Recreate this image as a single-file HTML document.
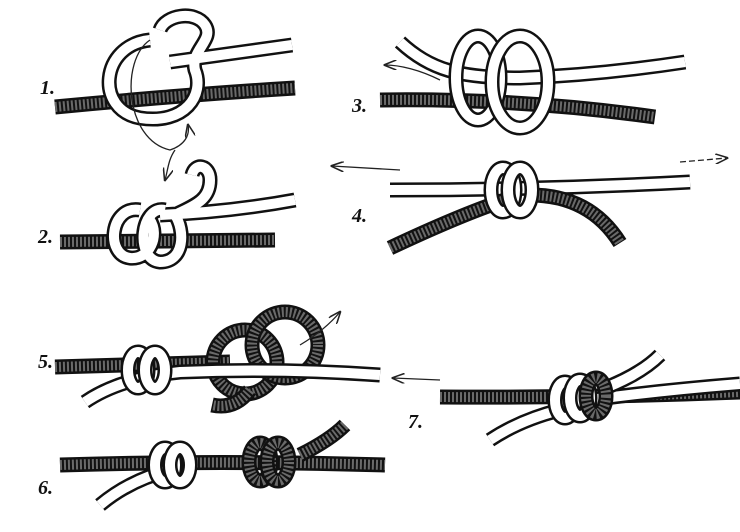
<!DOCTYPE html>
<html><head><meta charset="utf-8"><style>
html,body{margin:0;padding:0;background:#fff;}
svg{display:block}
.lo{fill:none;stroke:#111;stroke-width:15;stroke-linecap:butt;stroke-linejoin:round}
.li{fill:none;stroke:#fff;stroke-width:10;stroke-linecap:butt;stroke-linejoin:round}
.di{fill:none;stroke:#6a6a6a;stroke-width:10;stroke-dasharray:2 2;stroke-linejoin:round}
.ar{fill:none;stroke:#222;stroke-width:1.3}
text{font-family:"Liberation Serif",serif;font-size:20px;font-style:italic;font-weight:bold;fill:#111}
</style></head><body>
<svg width="740" height="532" viewBox="0 0 740 532" xmlns="http://www.w3.org/2000/svg">
<defs>
<marker id="ah" markerWidth="10" markerHeight="8" refX="9" refY="4" orient="auto"><path d="M0,0 L10,4 L0,8" fill="none" stroke="#222" stroke-width="1.2"/></marker>
</defs>

<!-- Panel 1 -->
<g>
<path class="lo" d="M55,107 Q180,95 295,88"/><path class="di" d="M55,107 Q180,95 295,88"/>
<path class="lo" d="M292,45 Q220,55 170,62 M150,40 C100,45 95,110 140,118 C185,125 205,95 195,70 C190,50 215,40 205,25 C195,10 165,15 160,30"/>
<path class="li" d="M292,45 Q220,55 170,62 M150,40 C100,45 95,110 140,118 C185,125 205,95 195,70 C190,50 215,40 205,25 C195,10 165,15 160,30"/>
<path class="ar" d="M150,40 C120,60 125,140 170,150 C185,145 190,135 188,125" marker-end="url(#ah)"/>
<path class="ar" d="M175,150 C168,160 168,170 165,180" marker-end="url(#ah)"/>
<text x="40" y="94">1.</text>
</g>

<!-- Panel 2 -->
<g>
<path class="lo" d="M60,242 L275,240"/><path class="di" d="M60,242 L275,240"/>
<path class="lo" d="M295,200 Q230,212 160,215 M140,210 C110,205 105,255 130,258 C150,260 160,235 150,220 M165,210 C140,205 135,260 160,262 C185,262 185,230 175,215 C195,205 210,200 210,180 C210,165 195,162 192,175"/>
<path class="li" d="M295,200 Q230,212 160,215 M140,210 C110,205 105,255 130,258 C150,260 160,235 150,220 M165,210 C140,205 135,260 160,262 C185,262 185,230 175,215 C195,205 210,200 210,180 C210,165 195,162 192,175"/>
<text x="38" y="243">2.</text>
</g>

<!-- Panel 3 -->
<g>
<path class="lo" d="M380,100 Q520,98 655,117"/><path class="di" d="M380,100 Q520,98 655,117"/>
<path class="lo" d="M400,42 C430,70 460,78 520,78 Q600,75 685,62"/>
<path class="li" d="M400,42 C430,70 460,78 520,78 Q600,75 685,62"/>
<ellipse class="lo" cx="478" cy="78" rx="22" ry="42"/><ellipse class="li" cx="478" cy="78" rx="22" ry="42"/>
<ellipse class="lo" cx="520" cy="82" rx="28" ry="46"/><ellipse class="li" cx="520" cy="82" rx="28" ry="46"/>
<path class="ar" d="M440,80 C420,70 400,65 385,65" marker-end="url(#ah)"/>
<text x="352" y="112">3.</text>
</g>

<!-- Panel 4 -->
<g>
<path class="ar" d="M400,170 L332,166" marker-end="url(#ah)"/>
<path class="ar" d="M680,162 L727,158" marker-end="url(#ah)" stroke-dasharray="6 3"/>
<path class="lo" d="M390,190 Q540,190 690,182"/><path class="li" d="M390,190 Q540,190 690,182"/>
<path class="lo" d="M390,248 Q460,215 505,200 M530,195 Q590,195 620,243"/>
<path class="di" d="M390,248 Q460,215 505,200 M530,195 Q590,195 620,243"/>
<ellipse class="lo" cx="503" cy="190" rx="12" ry="22"/><ellipse class="li" cx="503" cy="190" rx="12" ry="22"/>
<ellipse class="lo" cx="520" cy="190" rx="12" ry="22"/><ellipse class="li" cx="520" cy="190" rx="12" ry="22"/>
<text x="352" y="222">4.</text>
</g>

<!-- Panel 5 -->
<g>
<path class="lo" d="M55,367 L230,362"/><path class="di" d="M55,367 L230,362"/>
<circle class="lo" cx="245" cy="362" r="32"/><circle class="di" cx="245" cy="362" r="32"/>
<circle class="lo" cx="285" cy="345" r="33"/><circle class="di" cx="285" cy="345" r="33"/>
<path class="lo" d="M250,390 Q235,410 212,405"/><path class="di" d="M250,390 Q235,410 212,405"/>
<path class="lo" d="M380,375 Q280,368 180,372 Q120,378 85,402"/><path class="li" d="M380,375 Q280,368 180,372 Q120,378 85,402"/>
<ellipse class="lo" cx="138" cy="370" rx="10" ry="18"/><ellipse class="li" cx="138" cy="370" rx="10" ry="18"/>
<ellipse class="lo" cx="155" cy="370" rx="10" ry="18"/><ellipse class="li" cx="155" cy="370" rx="10" ry="18"/>
<path class="ar" d="M300,345 Q325,330 340,312" marker-end="url(#ah)"/>
<text x="38" y="368">5.</text>
</g>

<!-- Panel 6 -->
<g>
<path class="lo" d="M60,465 Q220,460 385,465"/><path class="di" d="M60,465 Q220,460 385,465"/>
<path class="lo" d="M300,455 Q330,440 345,425"/><path class="di" d="M300,455 Q330,440 345,425"/>
<path class="lo" d="M170,470 Q130,480 100,505"/><path class="li" d="M170,470 Q130,480 100,505"/>
<ellipse class="lo" cx="165" cy="465" rx="10" ry="17"/><ellipse class="li" cx="165" cy="465" rx="10" ry="17"/>
<ellipse class="lo" cx="180" cy="465" rx="10" ry="17"/><ellipse class="li" cx="180" cy="465" rx="10" ry="17"/>
<ellipse class="lo" cx="260" cy="462" rx="11" ry="19"/><ellipse class="di" cx="260" cy="462" rx="11" ry="19"/>
<ellipse class="lo" cx="278" cy="462" rx="11" ry="19"/><ellipse class="di" cx="278" cy="462" rx="11" ry="19"/>
<text x="38" y="494">6.</text>
</g>

<!-- Panel 7 -->
<g>
<path class="ar" d="M440,380 L393,378" marker-end="url(#ah)"/>
<path class="lo" d="M440,397 Q590,398 740,392"/><path class="di" d="M440,397 Q590,398 740,392"/>
<path class="lo" d="M555,405 Q640,392 740,384"/><path class="li" d="M555,405 Q640,392 740,384"/>
<path class="lo" d="M560,410 Q520,420 490,440"/><path class="li" d="M560,410 Q520,420 490,440"/>
<path class="lo" d="M600,390 Q640,375 660,355"/><path class="li" d="M600,390 Q640,375 660,355"/>
<ellipse class="lo" cx="565" cy="400" rx="10" ry="18"/><ellipse class="li" cx="565" cy="400" rx="10" ry="18"/>
<ellipse class="lo" cx="580" cy="398" rx="10" ry="18"/><ellipse class="li" cx="580" cy="398" rx="10" ry="18"/>
<ellipse class="lo" cx="596" cy="396" rx="10" ry="18"/><ellipse class="di" cx="596" cy="396" rx="10" ry="18"/>
<text x="408" y="428">7.</text>
</g>
</svg>
</body></html>
